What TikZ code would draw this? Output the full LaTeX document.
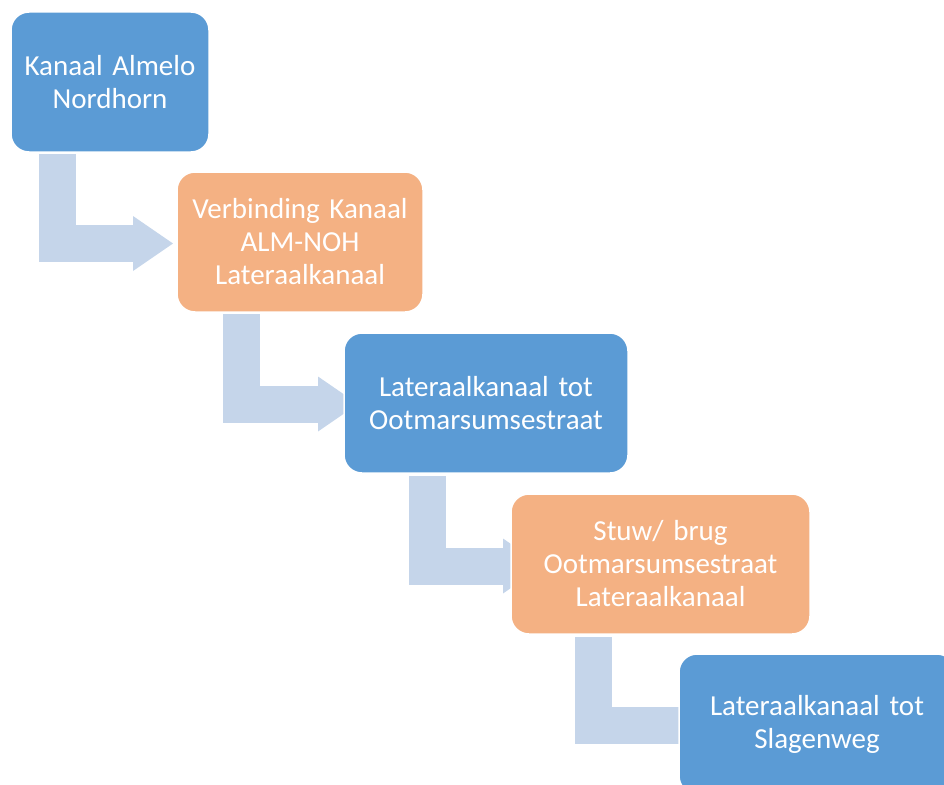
\documentclass[tikz,border=0pt]{standalone}
\usepackage{fontspec}
\setmainfont[WordSpace=0.75]{Carlito}
\usetikzlibrary{arrows.meta,positioning,backgrounds}

\definecolor{blokblauw}{HTML}{5B9BD5}
\definecolor{blokoranje}{HTML}{F4B183}
\definecolor{pijlblauw}{HTML}{C5D5EA}

\tikzset{
    blok/.style={rectangle, rounded corners=18pt, draw=white, line width=1.5pt, text=white,
        inner sep=0pt, outer sep=0pt, minimum height=140pt, align=center,
        font=\fontsize{29}{33}\selectfont},
    blauw/.style={blok, fill=blokblauw},
    oranje/.style={blok, fill=blokoranje},
    pijl/.style={draw=pijlblauw, line width=37pt, -{Triangle[length=40pt, width=55pt, line width=0pt]}}
}

\begin{document}
\begin{tikzpicture}[x=1pt, y=-1pt]
    \useasboundingbox (0,0) rectangle (944,784);
    \clip (0,0) rectangle (944,784);

    \node[blauw, text width=198pt, anchor=north west] (k1) at (11,12) {Kanaal Almelo\\Nordhorn};
    \node[oranje, text width=246pt, below right=20pt and -32pt of k1] (k2) {Verbinding Kanaal\\ALM-NOH\\Lateraalkanaal};
    \node[blauw, text width=284pt, below right=21pt and -79pt of k2] (k3) {Lateraalkanaal tot\\Ootmarsumsestraat};
    \node[oranje, text width=299pt, below right=21pt and -117pt of k3] (k4) {Stuw/ brug\\Ootmarsumsestraat\\Lateraalkanaal};
    \node[blauw, text width=276pt, below right=20pt and -131pt of k4] (k5) {Lateraalkanaal tot\\Slagenweg};

    \begin{scope}[on background layer]
        \draw[pijl] ([xshift=46.5pt, yshift=-2pt]k1.south west) |- ([xshift=-4pt, yshift=-1.5pt]k2.west);
        \draw[pijl] ([xshift=64pt, yshift=-2pt]k2.south west) |- ([xshift=14pt, yshift=-1pt]k3.west);
        \draw[pijl] ([xshift=83pt, yshift=-3pt]k3.south west) |- ([xshift=32pt, yshift=-2pt]k4.west);
        \draw[pijl] ([xshift=82.5pt, yshift=-3pt]k4.south west) |- ([xshift=45pt, yshift=-1pt]k5.west);
    \end{scope}
\end{tikzpicture}
\end{document}
